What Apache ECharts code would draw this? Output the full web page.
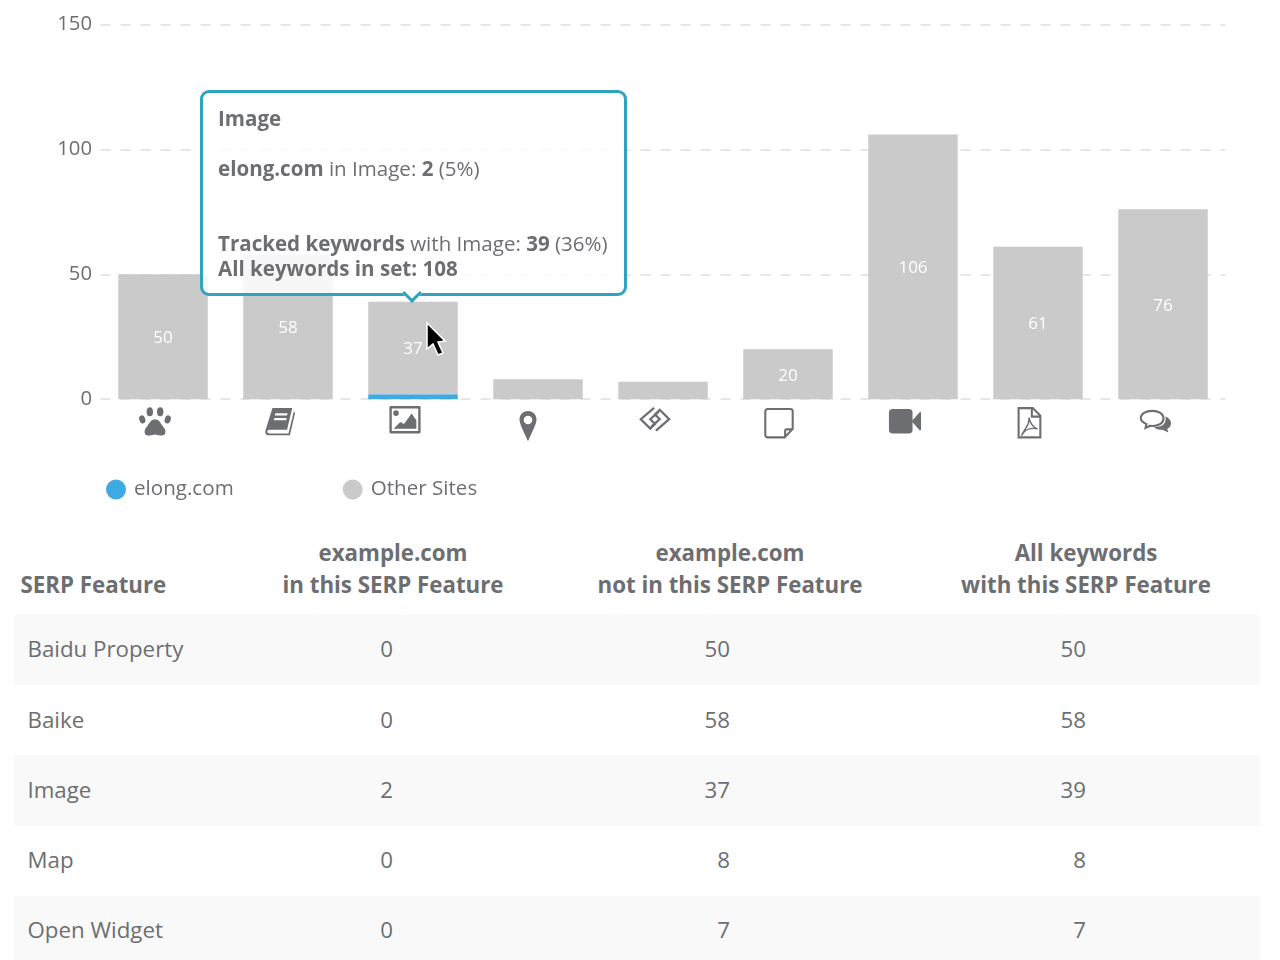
<!DOCTYPE html>
<html><head><meta charset="utf-8">
<script src="https://cdn.jsdelivr.net/npm/echarts@6/dist/echarts.min.js"></script>
<style>
html,body{margin:0;padding:0;background:#fff;overflow:hidden;width:1280px;height:960px;font-family:"Open Sans",sans-serif;color:#6d6e71}
#chart{position:absolute;left:0;top:0;width:1280px;height:530px}
#tbl{position:absolute;left:14px;top:530px;width:1246px;border-collapse:collapse;table-layout:fixed;font-size:22.3px}
#tbl th{font-weight:700;height:85px;vertical-align:bottom;text-align:center;line-height:31.5px;padding:0 0 15px 0;box-sizing:border-box}
#tbl th:first-child{text-align:left;padding-left:6.5px}
#tbl th:last-child{padding-right:22px}
#tbl td{height:70.2px;padding:0 0 2.5px 0;box-sizing:border-box}
#tbl td:first-child{padding-left:13.5px}
#tbl td.n{text-align:right}
#tbl tr:nth-child(odd) td{background:#f9f9f9}
</style></head>
<body>
<div id="chart"></div>
<table id="tbl"><colgroup><col style="width:246px"><col style="width:266px"><col style="width:408px"><col style="width:326px"></colgroup><thead></thead><tbody></tbody></table>
<script>
const categories = ['Baidu Property','Baike','Image','Map','Open Widget','Note','Video','PDF','Discussion'];
const siteValues = [0,0,2,0,0,0,0,0,0];
const otherValues = [50,58,37,8,7,20,106,61,76];
const yTicks = [0,50,100,150];
const legendNames = ['elong.com','Other Sites'];
const tableHeaders = ['SERP Feature','example.com<br>in this SERP Feature','example.com<br>not in this SERP Feature','All keywords<br>with this SERP Feature'];
const tableRows = [
  ['Baidu Property',0,50,50],
  ['Baike',0,58,58],
  ['Image',2,37,39],
  ['Map',0,8,8],
  ['Open Widget',0,7,7]
];

const ink = '#6d6e71';
const iconBodies = [
  `<ellipse cx="12.5" cy="7" rx="3.4" ry="4.8"/><ellipse cx="23.5" cy="7" rx="3.4" ry="4.8"/><ellipse cx="4.5" cy="15" rx="3.2" ry="4.3" transform="rotate(-18 4.5 15)"/><ellipse cx="31.5" cy="15" rx="3.2" ry="4.3" transform="rotate(18 31.5 15)"/><path d="M18 15c4 0 6 4 8 7 2 2 3 4 3 6 0 4-3 4-5 4-3 0-4-1-6-1s-3 1-6 1c-2 0-5 0-5-4 0-2 1-4 3-6 2-3 4-7 8-7z"/>`,
  `<path fill-rule="evenodd" d="M10 4h21l-5.500 23H7c-1.500 0-2.500 1-2.500 2s1 2 2.500 2h20l5.500-23 1.500 1-5.500 24H6.500C3.500 33 2 31 2.500 28zM13 9.500l-.5 2.500h13l.5-2.500zM12 14.500l-.5 2.500h13l.5-2.500z"/>`,
  `<path fill-rule="evenodd" d="M3 3h30a1.500 1.500 0 0 1 1.500 1.500v26a1.500 1.500 0 0 1-1.500 1.500H3a1.500 1.500 0 0 1-1.500-1.500v-26A1.500 1.500 0 0 1 3 3zM4 5.500v24h28v-24z"/><circle cx="8.500" cy="10.500" r="3"/><path d="M6 27l7-7 4 2 8-11 5 7v9z"/>`,
  `<path fill-rule="evenodd" d="M18 2c5.500 0 9 4 9 9 0 5-5.500 15-9 23-3.500-8-9-18-9-23 0-5 3.500-9 9-9zM18 7a4.500 4.500 0 1 0 0 9 4.500 4.500 0 0 0 0-9z"/>`,
  `<g fill="none" stroke="${ink}" stroke-width="2.400"><path d="M17 6L3 18l10 10 5-5-5-5 9-8"/><path d="M19 30L33 18 23 8l-5 5 5 5-9 8"/></g>`,
  `<path fill="none" stroke="${ink}" stroke-width="2.200" d="M6 3h24c1.500 0 2.500 1 2.500 2.500V24L24 33H6c-1.500 0-2.500-1-2.500-2.500v-25C3.500 4 4.500 3 6 3zM32.500 24.500H26c-1 0-1.500 .5-1.500 1.500v6.500"/>`,
  `<rect x="1" y="5" width="25" height="26" rx="4"/><path d="M26 17l7-8c1-1 2-1 2 1v16c0 2-1 2-2 1l-7-8z"/>`,
  `<g fill="none" stroke="${ink}"><path stroke-width="2.200" d="M7 2h15l8 8v23H7zM21 2.500v8.500h9"/><path stroke-width="1.500" d="M18 12c1 5 4 10 9 12-5-1-11 0-14 3-1 1-2 3-3 4 2-4 5-8 7-12 1-3 1-5 1-7z"/></g>`,
  `<path fill="none" stroke="${ink}" stroke-width="2.200" d="M15 6c7 0 12 3 12 8s-5 8-11 8c-1 0-2 0-3-.3L8 24l1-4c-3-1.500-6-3-6-6 0-5 5-8 12-8z"/><path d="M29 12c3 1 6 4 6 7 0 3-2 5-4 6l1 4-6-3c-3 0-6 0-9-3 7 1 14-3 12-11z"/>`
];
const iconOffsets = [[-8,23],[-8,22],[-8,21],[-10,27],[-8,20],[-9,24],[-8,22],[-9,24],[-8,23]];
const iconUrl = b => 'image://data:image/svg+xml;charset=utf-8,' + encodeURIComponent(
  `<svg xmlns="http://www.w3.org/2000/svg" width="144" height="144" viewBox="0 0 36 36" fill="${ink}">${b}</svg>`);

const tipHtml = `<div style="position:relative;font-size:20.55px;line-height:25px;color:${ink};white-space:nowrap">
<div style="position:absolute;left:-1px;top:13px;font-weight:700">Image</div>
<div style="position:absolute;left:-1px;top:63px"><b>elong.com</b> in Image: <b>2</b> (5%)</div>
<div style="position:absolute;left:-1px;top:137.5px"><b>Tracked keywords</b> with Image: <b>39</b> (36%)</div>
<div style="position:absolute;left:-1px;top:162.5px"><b>All keywords in set: 108</b></div>
</div>
<div style="position:absolute;left:202px;bottom:-7px;width:11px;height:11px;background:#fff;border-right:3px solid #2fa3bf;border-bottom:3px solid #2fa3bf;transform:rotate(45deg)"></div>`;

const chart = echarts.init(document.getElementById('chart'), null, {renderer:'canvas'});
chart.setOption({
  animation:false,
  textStyle:{fontFamily:'"Open Sans",sans-serif',color:ink},
  grid:{left:100.5,right:54.5,top:24.5,height:374.7},
  legend:{
    left:101,top:474,itemWidth:20,itemHeight:20,itemGap:109,icon:'circle',
    data:legendNames,selectedMode:false,
    textStyle:{fontSize:20.6,color:ink,padding:[0,0,0,3]}
  },
  tooltip:{
    show:true,trigger:'item',alwaysShowContent:true,transitionDuration:0,showDelay:0,hideDelay:0,
    backgroundColor:'rgba(255,255,255,0.85)',borderColor:'#2fa3bf',borderWidth:3,padding:[0,0,0,16],
    extraCssText:'width:427px;height:206px;box-sizing:border-box;border-radius:9px;box-shadow:none;overflow:visible;',
    position:()=>[200,90],
    formatter:()=>tipHtml
  },
  xAxis:{type:'category',data:categories,axisLine:{show:false},axisTick:{show:false},axisLabel:{show:false}},
  yAxis:{
    type:'value',min:yTicks[0],max:yTicks[yTicks.length-1],interval:yTicks[1]-yTicks[0],
    axisLine:{show:false},axisTick:{show:false},
    axisLabel:{fontSize:20.3,color:ink,margin:8.5,padding:[0,0,4,0]},
    splitLine:{show:true,lineStyle:{color:'#dedede',type:[10,10],width:1.5}}
  },
  series:[
    {name:legendNames[0],type:'bar',stack:'a',barWidth:89.5,data:siteValues,itemStyle:{color:'#3fa9e2'},silent:true,z:3},
    {name:legendNames[1],type:'bar',stack:'a',barWidth:89.5,data:otherValues,itemStyle:{color:'#cacaca'},z:3,
      label:{show:true,position:'inside',offset:[0,1.5],color:'#fff',fontSize:17,
        formatter:p=>p.value>=20?String(p.value):''}},
    {type:'scatter',silent:true,clip:false,tooltip:{show:false},z:4,itemStyle:{opacity:1},
      data:categories.map((c,i)=>({name:c,value:0,symbol:iconUrl(iconBodies[i]),symbolSize:34,symbolOffset:iconOffsets[i]}))}
  ],
  graphic:[{
    type:'polygon',z:100,silent:true,
    shape:{points:[[427,323],[427,349],[433,344],[438,355],[443,353],[438,342],[445,341]]},
    style:{fill:'#000',stroke:'#fff',lineWidth:1.5}
  }]
});
chart.dispatchAction({type:'showTip',seriesIndex:1,dataIndex:2});

const thead = document.querySelector('#tbl thead');
thead.innerHTML = '<tr>'+tableHeaders.map(h=>`<th>${h}</th>`).join('')+'</tr>';
const pads = [133,204,174];
document.querySelector('#tbl tbody').innerHTML = tableRows.map(r=>
  '<tr><td>'+r[0]+'</td>'+r.slice(1).map((v,i)=>`<td class="n" style="padding-right:${pads[i]}px">${v}</td>`).join('')+'</tr>').join('');
</script>
</body></html>
